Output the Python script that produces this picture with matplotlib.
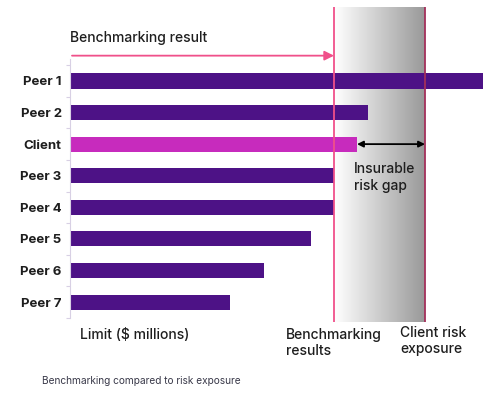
import matplotlib.pyplot as plt
import numpy as np

plt.rcParams['font.family'] = ['Inter', 'DejaVu Sans']

labels = ['Peer 1', 'Peer 2', 'Client', 'Peer 3', 'Peer 4', 'Peer 5', 'Peer 6', 'Peer 7']
limits = [41.3, 29.8, 28.7, 26.4, 26.4, 24.1, 19.4, 16.0]
benchmark = 26.4
exposure = 35.5

purple = '#4d1286'
magenta = '#c72bbd'
pink = '#f0508a'
maroon = '#a32f5a'
txt = '#1e1e1e'

fig = plt.figure(figsize=(5, 3.95), dpi=100)
ax = fig.add_axes([0.14, (395 - 322) / 395, 0.84, 315 / 395])

y = np.arange(len(labels))
colors = [magenta if l == 'Client' else purple for l in labels]
ax.barh(y, limits, height=0.48, color=colors, zorder=2)

# gradient band between benchmark and exposure
grad = np.linspace(1.0, 0.6, 256).reshape(1, -1)
ax.imshow(grad, cmap='gray', vmin=0, vmax=1, aspect='auto',
          extent=[benchmark, exposure, 7.63, -2.34], zorder=0)

ax.axvline(benchmark, color=pink, lw=1.3, zorder=3)
ax.axvline(exposure, color=maroon, lw=1.3, zorder=3)

ax.set_xlim(0, 42)
ax.set_ylim(7.63, -2.34)

# benchmarking arrow
ax.annotate('', xy=(benchmark, -0.8), xytext=(0.2, -0.8),
            arrowprops=dict(arrowstyle='-|>', color=pink, lw=1.3, mutation_scale=14,
                            shrinkA=0, shrinkB=0))
ax.text(0, -1.37, 'Benchmarking result', fontsize=10, fontweight='medium',
        va='center', ha='left', color=txt)

# insurable gap
client = limits[labels.index('Client')]
ax.annotate('', xy=(exposure, 2), xytext=(client, 2),
            arrowprops=dict(arrowstyle='<|-|>', color='black', lw=1.3, mutation_scale=9,
                            shrinkA=0, shrinkB=0),
            zorder=4)
ax.text(client - 0.3, 3.05, 'Insurable\nrisk gap', fontsize=10, fontweight='medium',
        va='center', ha='left', color=txt, linespacing=1.25)

ax.set_yticks(y)
ax.set_yticklabels(labels, fontweight='bold', fontsize=9.5, color=txt)
ax.set_yticks(np.arange(-0.5, len(labels)), minor=True)
ax.tick_params(axis='y', which='major', length=0, pad=6)
ax.tick_params(axis='y', which='minor', length=3, color='#d8d0e4', width=0.8)
ax.set_xticks([])
for s in ['top', 'right', 'bottom']:
    ax.spines[s].set_visible(False)
ax.spines['left'].set_color('#d8d0e4')
ax.spines['left'].set_linewidth(0.8)
ax.spines['left'].set_bounds(-0.7, 7.5)

fig.text(80 / 500, 1 - 335 / 395, 'Limit ($ millions)', fontsize=10, fontweight='medium',
         va='center', color=txt)
fig.text(286 / 500, 1 - 343 / 395, 'Benchmarking\nresults', fontsize=10, fontweight='medium',
         va='center', color=txt, linespacing=1.25)
fig.text(400 / 500, 1 - 341 / 395, 'Client risk\nexposure', fontsize=10, fontweight='medium',
         va='center', color=txt, linespacing=1.25)
fig.text(42 / 500, 1 - 381 / 395, 'Benchmarking compared to risk exposure', fontsize=7.3,
         va='center', color='#3a3a4a')

fig.savefig('out.png', dpi=100)
